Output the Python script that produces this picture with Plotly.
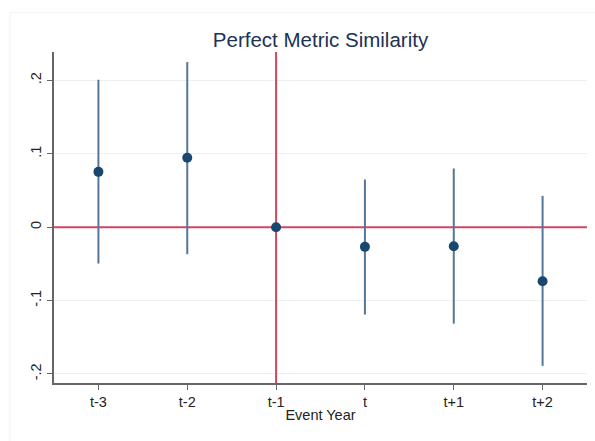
import plotly.graph_objects as go

categories = ["t-3", "t-2", "t-1", "t", "t+1", "t+2"]
coef = [0.0754, 0.0945, 0.0, -0.0268, -0.0259, -0.0736]
ci_upper = [0.2009, 0.225, 0.0, 0.065, 0.080, 0.0427]
ci_lower = [-0.0495, -0.0368, 0.0, -0.119, -0.1314, -0.189]
y_ticks = [-0.2, -0.1, 0.0, 0.1, 0.2]
y_tick_labels = ["-.2", "-.1", "0", ".1", ".2"]
ref_x_category = "t-1"
ref_y_value = 0.0

xpos = list(range(1, len(categories) + 1))
err_plus = [u - c for u, c in zip(ci_upper, coef)]
err_minus = [c - l for c, l in zip(coef, ci_lower)]
x_range = [0.5, len(categories) + 0.5]
y_range = [-0.2123, 0.2387]
ref_x = xpos[categories.index(ref_x_category)]

font_family = "Liberation Sans, Arial, sans-serif"
red = "#d6455f"

fig = go.Figure()
# reference lines (drawn first so the marker sits on top)
fig.add_trace(go.Scatter(x=x_range, y=[ref_y_value, ref_y_value], mode="lines",
                         line=dict(color=red, width=2), showlegend=False, hoverinfo="skip"))
fig.add_trace(go.Scatter(x=[ref_x, ref_x], y=y_range, mode="lines",
                         line=dict(color=red, width=2), showlegend=False, hoverinfo="skip"))
fig.add_trace(go.Scatter(
    x=xpos, y=coef, mode="markers",
    marker=dict(color="#1a476f", size=10),
    error_y=dict(type="data", symmetric=False, array=err_plus, arrayminus=err_minus,
                 color="#55759a", thickness=2, width=0),
    showlegend=False, cliponaxis=False,
))

fig.update_layout(
    width=595, height=441,
    margin=dict(l=54, r=8, t=52, b=58),
    paper_bgcolor="white", plot_bgcolor="white",
    title=dict(text="Perfect Metric Similarity", x=0.5, xref="paper", xanchor="center",
               y=1 - 40 / 441, yanchor="middle",
               font=dict(family=font_family, size=20.5, color="#1c3256")),
    font=dict(family=font_family, color="#222222"),
    xaxis=dict(range=x_range, tickmode="array", tickvals=xpos, ticktext=categories,
               showgrid=False, zeroline=False, showline=True, linecolor="#666666", linewidth=1.5,
               ticks="outside", ticklen=5, tickcolor="#666666", tickwidth=1.2,
               tickfont=dict(size=14.5, color="#222222"),
               title=dict(text="Event Year", font=dict(size=14.5, color="#222222"), standoff=1)),
    yaxis=dict(range=y_range, tickmode="array", tickvals=y_ticks, ticktext=y_tick_labels,
               showgrid=True, gridcolor="#eaf0f4", gridwidth=1, zeroline=False,
               showline=True, linecolor="#666666", linewidth=1.5,
               ticks="outside", ticklen=5, tickcolor="#666666", tickwidth=1.2,
               tickangle=-90, tickfont=dict(size=14.5, color="#222222")),
    shapes=[
        dict(type="rect", xref="paper", yref="paper", x0=-44 / 533, x1=1.02, y0=-0.3, y1=1.12,
             line=dict(color="#f2f2f2", width=1), fillcolor="rgba(0,0,0,0)", layer="below"),
    ],
)

fig.write_html("out.html")
